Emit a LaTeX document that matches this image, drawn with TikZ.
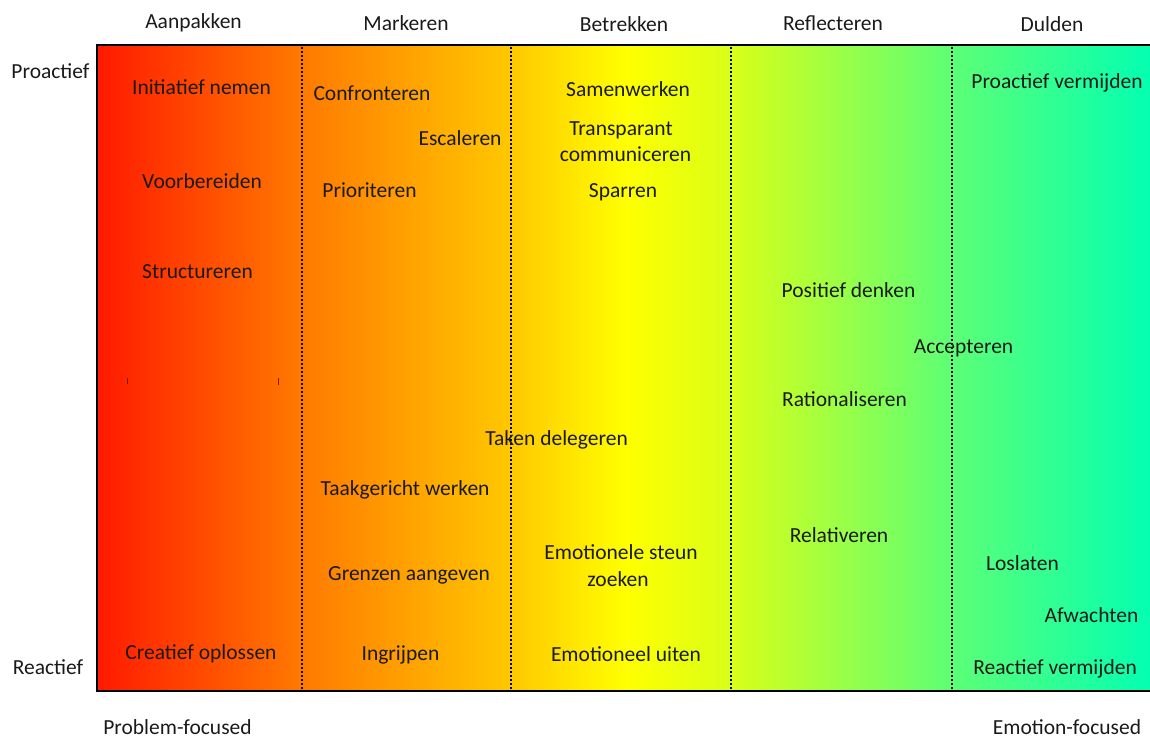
\documentclass[tikz,border=0pt]{standalone}
\usepackage{fontspec}
\setmainfont{Carlito}
\definecolor{txt}{HTML}{1A1A1A}
\definecolor{cA}{HTML}{FF1A00}
\definecolor{cB}{HTML}{FF7A00}
\definecolor{cC}{HTML}{FFC800}
\definecolor{cD}{HTML}{FFFF00}
\definecolor{cE}{HTML}{D8FF18}
\definecolor{cF}{HTML}{5CFF76}
\definecolor{cG}{HTML}{00FFB4}
\definecolor{tick}{HTML}{7A1A00}
\begin{document}
\begin{tikzpicture}[x=1pt,y=-1pt,
  lbl/.style={font=\fontsize{21.5}{26}\selectfont, text=txt, inner sep=0pt, anchor=base},
  frame/.style={line width=2.5pt, draw=black},
  divider/.style={line width=2pt, draw=black, dash pattern=on 2pt off 2pt}]
\useasboundingbox (0,0) rectangle (1150,740);
\begin{scope}
\clip (0,0) rectangle (1150,740);
% gradient background
\shade[left color=cA, right color=cB] (97,45) rectangle (302.5,691);
\shade[left color=cB, right color=cC] (302,45) rectangle (511.5,691);
\shade[left color=cC, right color=cD] (511,45) rectangle (625.5,691);
\shade[left color=cD, right color=cE] (625,45) rectangle (731.5,691);
\shade[left color=cE, right color=cF] (731,45) rectangle (952.5,691);
\shade[left color=cF, right color=cG] (952,45) rectangle (1160,691);
% dividers
\foreach \x in {302,511,731,952} \draw[divider] (\x,47) -- (\x,689);
% tiny marks
\draw[tick, line width=0.8pt] (127,378) -- (127,384);
\draw[tick, line width=0.8pt] (278,378) -- (278,385);
% frame
\draw[frame] (1160,45) -- (97,45) -- (97,691) -- (1160,691);
\end{scope}
% column headings
\node[lbl] (h1) at (193.5,28) {Aanpakken};
\node[lbl] (h2) at (406,30) {Markeren};
\node[lbl] (h3) at (624,31) {Betrekken};
\node[lbl] (h4) at (833,30.5) {Reflecteren};
\node[lbl] (h5) at (1052,31.5) {Dulden};
% row labels
\node[lbl] (pro) at (50.5,78) {Proactief};
\node[lbl] (rea) at (48,674) {Reactief};
\node[lbl] (pf) at (177.5,734.5) {Problem-focused};
\node[lbl] (ef) at (1067,734) {Emotion-focused};
% Aanpakken
\node[lbl] (a1) at (201.5,94) {Initiatief nemen};
\node[lbl] (a2) at (202,188) {Voorbereiden};
\node[lbl] (a3) at (197.5,278) {Structureren};
\node[lbl] (a4) at (201,659) {Creatief oplossen};
% Markeren
\node[lbl] (m1) at (372,100) {Confronteren};
\node[lbl] (m2) at (460,145) {Escaleren};
\node[lbl] (m3) at (369.5,197) {Prioriteren};
\node[lbl] (m4) at (405,495) {Taakgericht werken};
\node[lbl] (m5) at (409,580) {Grenzen aangeven};
\node[lbl] (m6) at (400.5,660) {Ingrijpen};
% Betrekken
\node[lbl] (b1) at (628,96) {Samenwerken};
\node[lbl] (b2a) at (621,135) {Transparant};
\node[lbl] (b2b) at (625.5,161) {communiceren};
\node[lbl] (b3) at (623,197) {Sparren};
\node[lbl] (b4) at (556.5,445) {Taken delegeren};
\node[lbl] (b5a) at (621,559) {Emotionele steun};
\node[lbl] (b5b) at (618,586) {zoeken};
\node[lbl] (b6) at (626,661) {Emotioneel uiten};
% Reflecteren
\node[lbl] (r1) at (848.5,297) {Positief denken};
\node[lbl] (r2) at (844.5,406) {Rationaliseren};
\node[lbl] (r3) at (839,542) {Relativeren};
% Dulden
\node[lbl] (d0) at (963.5,353) {Accepteren};
\node[lbl] (d1) at (1057,88) {Proactief vermijden};
\node[lbl] (d2) at (1022.5,570) {Loslaten};
\node[lbl] (d3) at (1091.5,622) {Afwachten};
\node[lbl] (d4) at (1055,674) {Reactief vermijden};
\end{tikzpicture}
\end{document}
